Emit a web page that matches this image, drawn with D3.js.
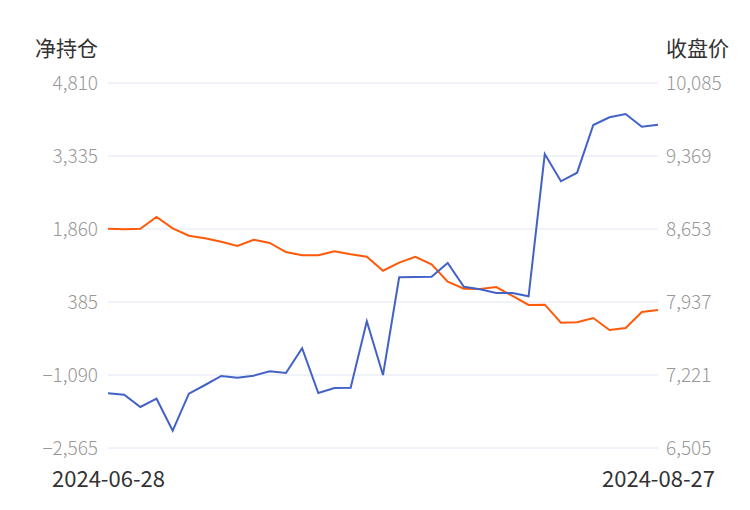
<!DOCTYPE html>
<html>
<head>
<meta charset="utf-8">
<script src="https://cdn.jsdelivr.net/npm/d3@7"></script>
<style>
  body { margin: 0; background: #fff; }
  svg text { font-family: "Noto Sans CJK SC", "Noto Sans", sans-serif; }
</style>
</head>
<body>
<script>
// trading days shown on the chart
var dates = [
  "2024-06-28", "2024-07-01", "2024-07-02", "2024-07-03", "2024-07-04",
  "2024-07-05", "2024-07-08", "2024-07-09", "2024-07-10", "2024-07-11",
  "2024-07-12", "2024-07-15", "2024-07-16", "2024-07-17", "2024-07-18",
  "2024-07-19", "2024-07-22", "2024-07-23", "2024-07-24", "2024-07-25",
  "2024-07-26", "2024-07-29", "2024-07-30", "2024-07-31", "2024-08-01",
  "2024-08-02", "2024-08-05", "2024-08-06", "2024-08-07", "2024-08-08",
  "2024-08-09", "2024-08-12", "2024-08-13", "2024-08-26", "2024-08-27"
];

// 净持仓 (left axis)
var netPosition = [
  -1460, -1488, -1736, -1569, -2215, -1468, -1292, -1110, -1144, -1104,
  -1015, -1049, -550, -1454, -1353, -1346, -5, -1090, 884, 890,
  896, 1173, 694, 642, 567, 567, 500, 3375, 2824, 2998,
  3961, 4117, 4184, 3927, 3967
];

// 收盘价 (right axis)
var closePrice = [
  8656, 8650, 8656, 8771, 8660, 8587, 8562, 8528, 8486, 8548,
  8516, 8427, 8395, 8395, 8434, 8405, 8381, 8244, 8323, 8381,
  8307, 8136, 8068, 8065, 8084, 7996, 7908, 7911, 7734, 7738,
  7780, 7662, 7682, 7839, 7859
];

var leftTicks = [-2565, -1090, 385, 1860, 3335, 4810];
var rightTicks = [6505, 7221, 7937, 8653, 9369, 10085];

var w = 750, h = 510;
var plotLeft = 108, plotRight = 658, plotTop = 83, plotBottom = 448;

var svg = d3.select("body").append("svg")
  .attr("width", w)
  .attr("height", h);

var x = d3.scalePoint()
  .domain(dates)
  .range([plotLeft, plotRight]);

var yL = d3.scaleLinear()
  .domain([leftTicks[0], leftTicks[leftTicks.length - 1]])
  .range([plotBottom, plotTop]);

var yR = d3.scaleLinear()
  .domain([rightTicks[0], rightTicks[rightTicks.length - 1]])
  .range([plotBottom, plotTop]);

var fmt = d3.format(",");

// gridlines
svg.append("g").selectAll("line")
  .data(leftTicks)
  .enter().append("line")
  .attr("x1", plotLeft)
  .attr("x2", plotRight)
  .attr("y1", function(d) { return yL(d); })
  .attr("y2", function(d) { return yL(d); })
  .attr("stroke", "#e0e6f1")
  .attr("stroke-width", 1);

// left axis
var axisL = svg.append("g")
  .attr("transform", "translate(" + plotLeft + ",0)")
  .call(d3.axisLeft(yL).tickValues(leftTicks).tickFormat(fmt).tickSize(0).tickPadding(10));
axisL.select(".domain").remove();
axisL.selectAll("text")
  .attr("fill", "#999")
  .style("font-size", "19px")
  .style("font-weight", 300);

// right axis
var axisR = svg.append("g")
  .attr("transform", "translate(" + plotRight + ",0)")
  .call(d3.axisRight(yR).tickValues(rightTicks).tickFormat(fmt).tickSize(0).tickPadding(8));
axisR.select(".domain").remove();
axisR.selectAll("text")
  .attr("fill", "#999")
  .style("font-size", "19px")
  .style("font-weight", 300);

// x axis: only first and last date
var axisX = svg.append("g")
  .attr("transform", "translate(0," + plotBottom + ")")
  .call(d3.axisBottom(x)
    .tickValues([dates[0], dates[dates.length - 1]])
    .tickSize(0).tickPadding(23));
axisX.select(".domain").remove();
axisX.selectAll("text")
  .attr("fill", "#333")
  .style("font-size", "22px");

// titles
svg.append("text")
  .attr("x", 98).attr("y", 56)
  .attr("text-anchor", "end")
  .attr("fill", "#333")
  .style("font-size", "21px")
  .text("净持仓");

svg.append("text")
  .attr("x", 666).attr("y", 56)
  .attr("fill", "#333")
  .style("font-size", "21px")
  .text("收盘价");

// lines
var lineL = d3.line()
  .x(function(d, i) { return x(dates[i]); })
  .y(function(d) { return yL(d); });

var lineR = d3.line()
  .x(function(d, i) { return x(dates[i]); })
  .y(function(d) { return yR(d); });

svg.append("path")
  .datum(closePrice)
  .attr("d", lineR)
  .attr("fill", "none")
  .attr("stroke", "#ff5a0a")
  .attr("stroke-width", 2);

svg.append("path")
  .datum(netPosition)
  .attr("d", lineL)
  .attr("fill", "none")
  .attr("stroke", "#4262c8")
  .attr("stroke-width", 2);
</script>
</body>
</html>
